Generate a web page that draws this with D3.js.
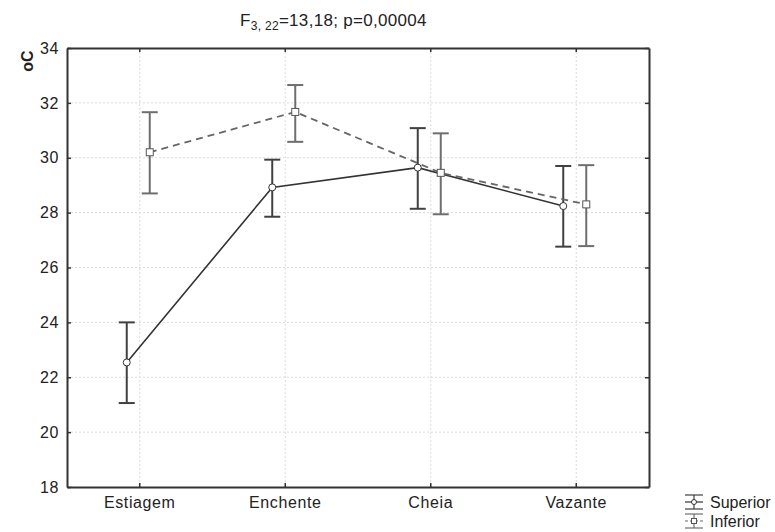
<!DOCTYPE html>
<html>
<head>
<meta charset="utf-8">
<script src="https://cdn.jsdelivr.net/npm/d3@7"></script>
<style>
body { margin: 0; background: #fff; }
svg text { font-family: "Liberation Sans", Arial, sans-serif; fill: #222; }
</style>
</head>
<body>
<div id="chart"></div>
<script>
var categories = ['Estiagem', 'Enchente', 'Cheia', 'Vazante'];
var seriesNames = ['Superior', 'Inferior'];

// means and 95% CI
var superiorMean = [22.54, 28.92, 29.64, 28.24];
var superiorLow  = [21.06, 27.85, 28.14, 26.76];
var superiorHigh = [24.00, 29.93, 31.08, 29.70];

var inferiorMean = [30.20, 31.67, 29.45, 28.30];
var inferiorLow  = [28.70, 30.58, 27.94, 26.78];
var inferiorHigh = [31.66, 32.65, 30.89, 29.73];

var yTicks = [18, 20, 22, 24, 26, 28, 30, 32, 34];

var W = 775, H = 532;
var margin = {top: 48, right: 126, bottom: 45, left: 67};
var width = W - margin.left - margin.right,
    height = H - margin.top - margin.bottom;

var svg = d3.select('#chart').append('svg')
    .attr('width', W)
    .attr('height', H);

var g = svg.append('g')
    .attr('transform', 'translate(' + margin.left + ',' + margin.top + ')');

var x = d3.scaleBand().domain(categories).range([0, width]);
var y = d3.scaleLinear().domain([18, 34]).range([height, 0]);
var cx = function(c) { return x(c) + x.bandwidth() / 2; };

// grid
g.selectAll('.hgrid').data(yTicks.slice(1, -1)).enter().append('line')
    .attr('x1', 0).attr('x2', width)
    .attr('y1', function(d) { return y(d); }).attr('y2', function(d) { return y(d); })
    .attr('stroke', '#dcdcdc').attr('stroke-dasharray', '2,2');
g.selectAll('.vgrid').data(categories).enter().append('line')
    .attr('x1', cx).attr('x2', cx)
    .attr('y1', 0).attr('y2', height)
    .attr('stroke', '#dcdcdc').attr('stroke-dasharray', '2,2');

// axes, ticks inside
var axisStyle = function(sel) {
    sel.select('.domain').attr('stroke', '#333').attr('stroke-width', 2);
    sel.selectAll('.tick line').attr('stroke', '#333').attr('stroke-width', 1.5);
    sel.selectAll('text').style('font-size', '16px').style('letter-spacing', '0.6px').attr('fill', '#222');
};

g.append('g').attr('transform', 'translate(0,' + height + ')')
    .call(d3.axisBottom(x).tickSizeInner(-4).tickSizeOuter(0).tickPadding(10))
    .call(axisStyle);

g.append('g')
    .call(d3.axisTop(x).tickSizeInner(-4).tickSizeOuter(0).tickFormat(''))
    .call(axisStyle);

g.append('g')
    .call(d3.axisLeft(y).tickValues(yTicks).tickSizeInner(-4).tickSizeOuter(0).tickPadding(8))
    .call(axisStyle);

g.append('g').attr('transform', 'translate(' + width + ',0)')
    .call(d3.axisRight(y).tickValues(yTicks).tickSizeInner(-4).tickSizeOuter(0).tickFormat(''))
    .call(axisStyle);

// series
var series = [
    {name: 'Superior', mean: superiorMean, lo: superiorLow, hi: superiorHigh,
     dx: -13, line: '#333', bar: '#404040', dash: null, marker: 'circle'},
    {name: 'Inferior', mean: inferiorMean, lo: inferiorLow, hi: inferiorHigh,
     dx: 10, line: '#666', bar: '#6e6e6e', dash: '7,5', marker: 'square'}
];

series.forEach(function(s) {
    var pts = categories.map(function(c, i) {
        return {x: cx(c) + s.dx, m: s.mean[i], lo: s.lo[i], hi: s.hi[i]};
    });

    var eb = g.append('g');
    pts.forEach(function(p) {
        eb.append('line').attr('x1', p.x).attr('x2', p.x)
            .attr('y1', y(p.lo)).attr('y2', y(p.hi))
            .attr('stroke', s.bar).attr('stroke-width', 2);
        [p.lo, p.hi].forEach(function(v) {
            eb.append('line').attr('x1', p.x - 8).attr('x2', p.x + 8)
                .attr('y1', y(v)).attr('y2', y(v))
                .attr('stroke', s.bar).attr('stroke-width', 2);
        });
    });

    g.append('path').datum(pts)
        .attr('fill', 'none')
        .attr('stroke', s.line)
        .attr('stroke-width', s.dash ? 1.8 : 1.6)
        .attr('stroke-dasharray', s.dash)
        .attr('d', d3.line().x(function(p) { return p.x; }).y(function(p) { return y(p.m); }));

    pts.forEach(function(p) {
        if (s.marker === 'circle') {
            g.append('circle').attr('cx', p.x).attr('cy', y(p.m)).attr('r', 3.5)
                .attr('fill', '#fff').attr('stroke', '#333');
        } else {
            g.append('rect').attr('x', p.x - 3.5).attr('y', y(p.m) - 3.5)
                .attr('width', 7).attr('height', 7)
                .attr('fill', '#fff').attr('stroke', '#555');
        }
    });
});

// y label
svg.append('text')
    .attr('transform', 'translate(33,61) rotate(-90)')
    .attr('text-anchor', 'middle')
    .style('font-size', '16px').style('font-weight', 'bold')
    .text('oC');

// title
var title = svg.append('text').attr('x', 240).attr('y', 26)
    .style('font-size', '17px').style('letter-spacing', '0.3px');
title.append('tspan').text('F');
title.append('tspan').attr('dy', 4).style('font-size', '12px').text('3, 22');
title.append('tspan').attr('dy', -4).text('=13,18;  p=0,00004');

// legend
var leg = svg.append('g').attr('transform', 'translate(685,0)');
series.forEach(function(s, i) {
    var by = 502 + i * 19;
    var lg = leg.append('g');
    lg.append('line').attr('x1', 0).attr('x2', 18).attr('y1', by - 7).attr('y2', by - 7)
        .attr('stroke', s.bar).attr('stroke-width', 1.2);
    lg.append('line').attr('x1', 0).attr('x2', 18).attr('y1', by + 7).attr('y2', by + 7)
        .attr('stroke', s.bar).attr('stroke-width', 1.2);
    lg.append('line').attr('x1', 9).attr('x2', 9).attr('y1', by - 7).attr('y2', by + 7)
        .attr('stroke', s.bar).attr('stroke-width', 1.2);
    lg.append('line').attr('x1', 0).attr('x2', 18).attr('y1', by).attr('y2', by)
        .attr('stroke', s.line).attr('stroke-width', 1.2)
        .attr('stroke-dasharray', s.dash ? '3,2' : null);
    if (s.marker === 'circle') {
        lg.append('circle').attr('cx', 9).attr('cy', by).attr('r', 2.5)
            .attr('fill', '#fff').attr('stroke', '#333');
    } else {
        lg.append('rect').attr('x', 6.5).attr('y', by - 2.5).attr('width', 5).attr('height', 5)
            .attr('fill', '#fff').attr('stroke', '#555');
    }
    leg.append('text').attr('x', 25).attr('y', by + 6)
        .style('font-size', '16px').text(s.name);
});
</script>
</body>
</html>
